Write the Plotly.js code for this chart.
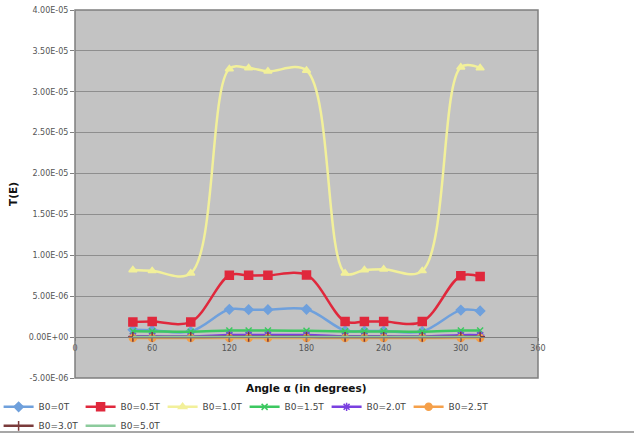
<!DOCTYPE html>
<html>
<head>
<meta charset="utf-8">
<script src="https://cdn.plot.ly/plotly-3.0.1.min.js"></script>
<style>html,body{margin:0;padding:0;background:#fff;}#chart{width:634px;height:435px;}</style>
</head>
<body>
<div id="chart"></div>
<script>
// Angles (degrees)
const angles = [45, 60, 90, 120, 135, 150, 180, 210, 225, 240, 270, 300, 315];

// T(E) per magnetic field B0
const tB0_0T  = [0.90e-6, 0.85e-6, 0.70e-6, 3.40e-6, 3.35e-6, 3.35e-6, 3.40e-6, 0.80e-6, 0.75e-6, 0.75e-6, 0.70e-6, 3.30e-6, 3.20e-6];
const tB0_05T = [1.85e-6, 1.90e-6, 1.85e-6, 7.55e-6, 7.55e-6, 7.55e-6, 7.60e-6, 1.90e-6, 1.90e-6, 1.90e-6, 1.90e-6, 7.50e-6, 7.40e-6];
const tB0_10T = [8.20e-6, 8.10e-6, 7.80e-6, 32.8e-6, 32.9e-6, 32.5e-6, 32.6e-6, 7.80e-6, 8.20e-6, 8.30e-6, 8.10e-6, 33.0e-6, 32.9e-6];
const tB0_15T = [0.72e-6, 0.70e-6, 0.65e-6, 0.80e-6, 0.80e-6, 0.80e-6, 0.78e-6, 0.70e-6, 0.70e-6, 0.70e-6, 0.66e-6, 0.80e-6, 0.80e-6];
const tB0_20T = [0.10e-6, 0.10e-6, 0.08e-6, 0.25e-6, 0.25e-6, 0.25e-6, 0.25e-6, 0.10e-6, 0.10e-6, 0.10e-6, 0.08e-6, 0.24e-6, 0.24e-6];
const tB0_25T = [-0.10e-6, -0.10e-6, -0.10e-6, -0.12e-6, -0.12e-6, -0.12e-6, -0.12e-6, -0.10e-6, -0.10e-6, -0.10e-6, -0.10e-6, -0.12e-6, -0.12e-6];
const tB0_30T = [0.02e-6, 0.02e-6, 0.02e-6, 0.03e-6, 0.03e-6, 0.03e-6, 0.03e-6, 0.02e-6, 0.02e-6, 0.02e-6, 0.02e-6, 0.03e-6, 0.03e-6];
const tB0_50T = [0.01e-6, 0.01e-6, 0.01e-6, 0.01e-6, 0.01e-6, 0.01e-6, 0.01e-6, 0.01e-6, 0.01e-6, 0.01e-6, 0.01e-6, 0.01e-6, 0.01e-6];

const seriesNames = ["B0=0T", "B0=0.5T", "B0=1.0T", "B0=1.5T", "B0=2.0T", "B0=2.5T", "B0=3.0T", "B0=5.0T"];

// Tick labels
const yTickVals = [-5e-6, 0, 5e-6, 1e-5, 1.5e-5, 2e-5, 2.5e-5, 3e-5, 3.5e-5, 4e-5];
const yTickText = ["-5.00E-06", "0.00E+00", "5.00E-06", "1.00E-05", "1.50E-05", "2.00E-05", "2.50E-05", "3.00E-05", "3.50E-05", "4.00E-05"];
const xTickVals = [0, 60, 120, 180, 240, 300, 360];
const xTickText = ["0", "60", "120", "180", "240", "300", "360"];

const xTitle = "Angle α (in degrees)";
const yTitle = "T(E)";

const seriesData = [tB0_0T, tB0_05T, tB0_10T, tB0_15T, tB0_20T, tB0_25T, tB0_30T, tB0_50T];
const styles = [
  {color: "#6fa0dc", symbol: "diamond", size: 7},
  {color: "#e0283c", symbol: "square", size: 8},
  {color: "#f2f09a", symbol: "triangle-up", size: 7},
  {color: "#3cc860", symbol: "x-thin-open", size: 6},
  {color: "#7a40e0", symbol: "asterisk-open", size: 7},
  {color: "#f5a04a", symbol: "circle", size: 7},
  {color: "#7a3b3b", symbol: "cross-thin-open", size: 7},
  {color: "#8ccb9c", symbol: null, size: 0}
];

const traces = seriesData.map((ys, i) => {
  const s = styles[i];
  const t = {
    type: "scatter",
    x: angles,
    y: ys,
    name: seriesNames[i],
    mode: s.symbol ? "lines+markers" : "lines",
    line: {color: s.color, width: 2.5, shape: "spline", smoothing: 1},
    cliponaxis: false
  };
  if (s.symbol) t.marker = {symbol: s.symbol, size: s.size, color: s.color, line: {color: s.color, width: 1.5}};
  return t;
});

const layout = {
  width: 634,
  height: 435,
  margin: {l: 75, r: 96, t: 10, b: 57, autoexpand: false},
  paper_bgcolor: "#ffffff",
  plot_bgcolor: "#c3c3c3",
  font: {family: "DejaVu Sans, Verdana, sans-serif", color: "#444"},
  showlegend: true,
  xaxis: {
    range: [0, 360],
    anchor: "free",
    position: 1 / 9,
    tickvals: xTickVals,
    ticktext: xTickText,
    tickfont: {size: 8, color: "#555"},
    showgrid: false,
    zeroline: false,
    showline: true,
    linecolor: "#7f7f7f",
    linewidth: 1,
    ticks: "outside",
    ticklen: 3,
    tickcolor: "#7f7f7f"
  },
  yaxis: {
    range: [-5e-6, 4e-5],
    tickvals: yTickVals,
    ticktext: yTickText,
    tickfont: {size: 8, color: "#555"},
    showgrid: true,
    gridcolor: "#8e8e8e",
    gridwidth: 1,
    zeroline: false,
    showline: false,
    ticks: "outside",
    ticklen: 4,
    tickcolor: "#7f7f7f"
  },
  legend: {
    orientation: "h",
    x: -0.165,
    xanchor: "left",
    y: -0.039,
    yanchor: "top",
    entrywidth: 37,
    itemwidth: 30,
    font: {size: 9, color: "#444", family: "DejaVu Sans, Verdana, sans-serif"},
    bgcolor: "rgba(0,0,0,0)",
    tracegroupgap: 0
  },
  annotations: [
    {text: "<b>" + xTitle + "</b>", xref: "paper", yref: "paper", x: 0.5, y: -0.028, xanchor: "center", yanchor: "middle", showarrow: false, font: {size: 10.5, color: "#111"}},
    {text: "<b>" + yTitle + "</b>", xref: "paper", yref: "paper", x: -0.134, y: 0.5, xanchor: "center", yanchor: "middle", textangle: -90, showarrow: false, font: {size: 10.5, color: "#111"}}
  ],
  shapes: [
    {type: "rect", xref: "paper", yref: "paper", x0: 0, x1: 1, y0: 0, y1: 1, line: {color: "#7f7f7f", width: 1.5}, layer: "above"},
    {type: "line", xref: "paper", yref: "paper", x0: -0.17, x1: 1.21, y0: -0.1467, y1: -0.1467, line: {color: "#8a8a8a", width: 1.5}}
  ]
};

Plotly.newPlot("chart", traces, layout, {staticPlot: true, displayModeBar: false});
</script>
</body>
</html>
